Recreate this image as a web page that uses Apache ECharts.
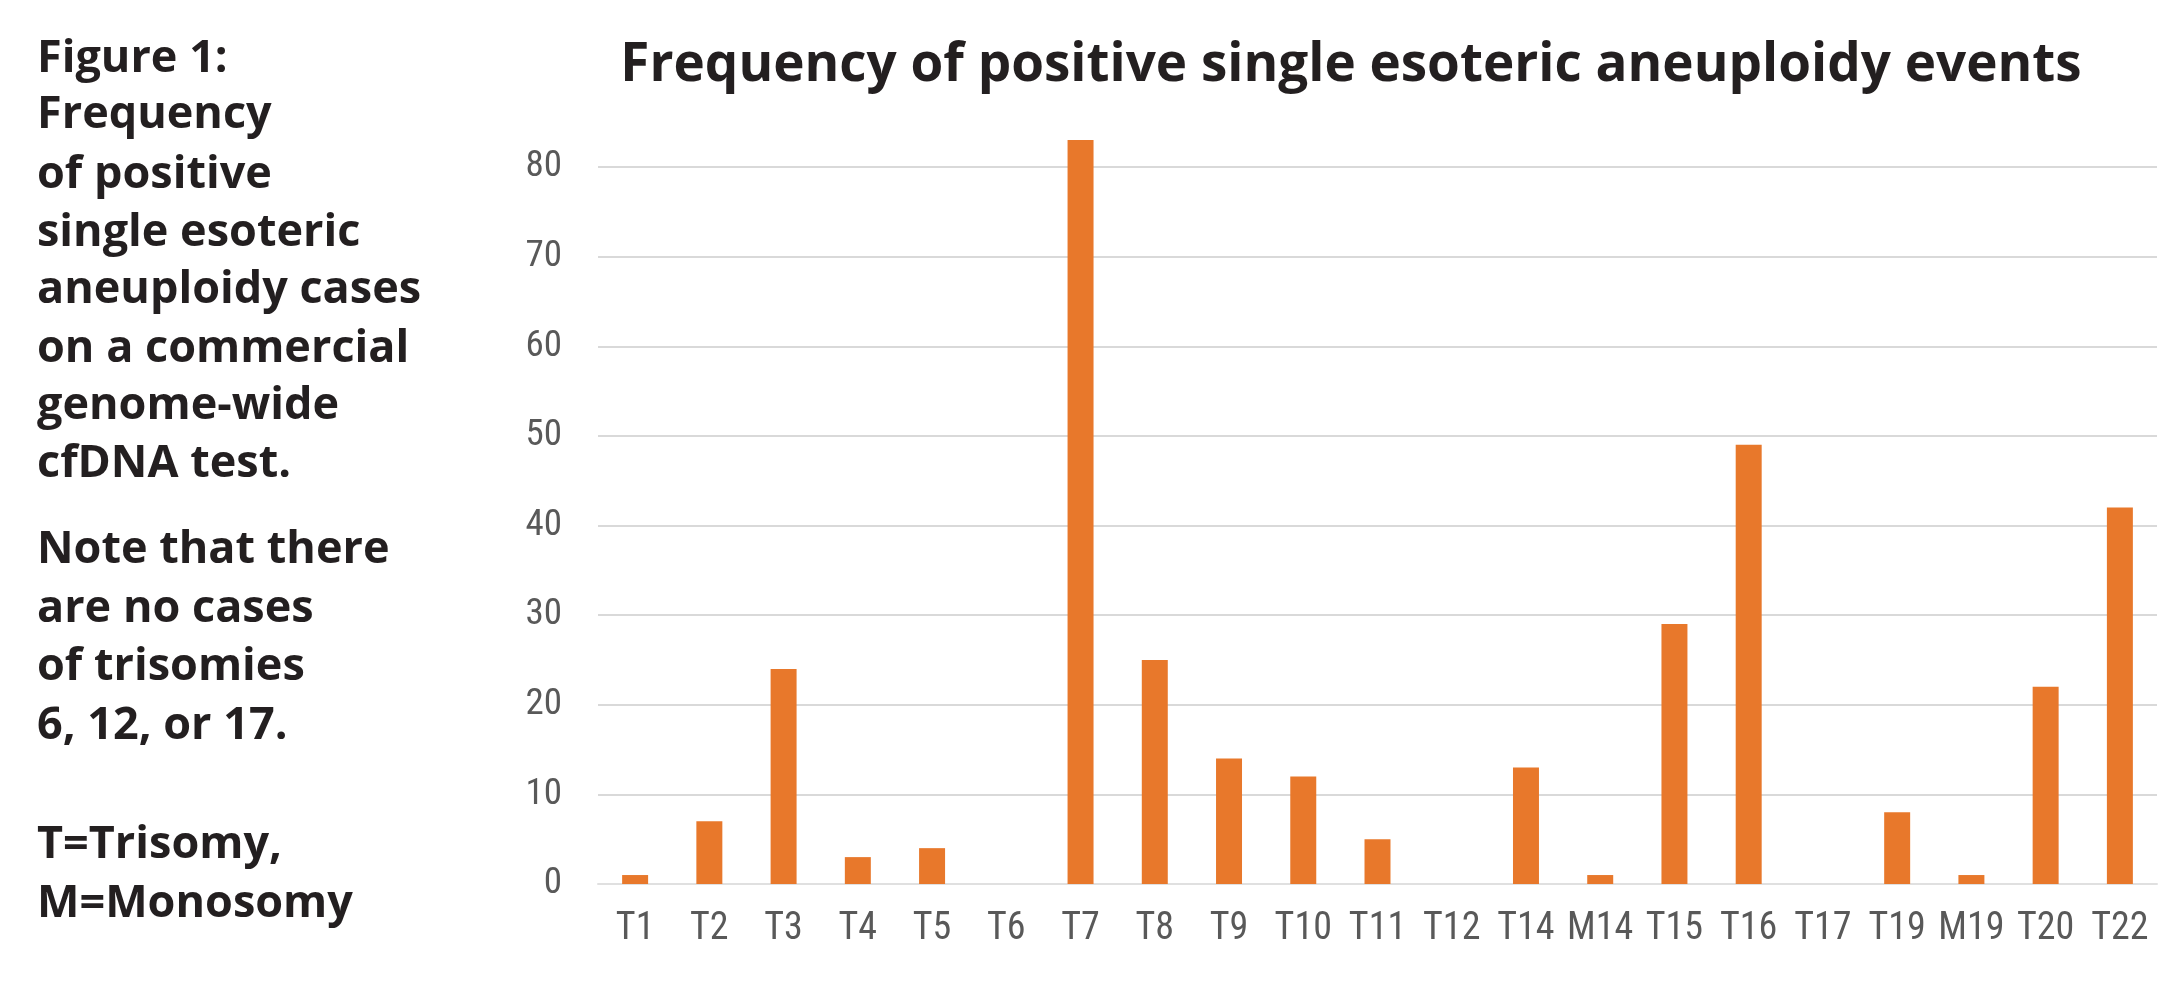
<!DOCTYPE html>
<html>
<head>
<meta charset="utf-8">
<style>
html,body{margin:0;padding:0;background:#fff;}
#chart{width:2181px;height:984px;}
</style>
<script src="https://cdn.jsdelivr.net/npm/echarts@6/dist/echarts.min.js"></script>
</head>
<body>
<div id="chart"></div>
<script>
const categories = ['T1','T2','T3','T4','T5','T6','T7','T8','T9','T10','T11','T12','T14','M14','T15','T16','T17','T19','M19','T20','T22'];
const counts = [1,7,24,3,4,0,83,25,14,12,5,0,13,1,29,49,0,8,1,22,42];
const yTicks = [0,10,20,30,40,50,60,70,80];
const titleText = 'Frequency of positive single esoteric aneuploidy events';
const captionLines = [
  'Figure 1:','Frequency','of positive','single esoteric','aneuploidy cases',
  'on a commercial','genome-wide','cfDNA test.',
  'Note that there','are no cases','of trisomies','6, 12, or 17.',
  'T=Trisomy,','M=Monosomy'
];
const captionY = [59,115,175,233,290,349,406,464,550,609,667,726,845,904];

const labelFont = "'Liberation Sans Narrow', 'Roboto Condensed', 'DejaVu Sans Condensed', Roboto, sans-serif";

const chart = echarts.init(document.getElementById('chart'));
const graphics = captionLines.map((t,i)=>({
  type:'text', x:37, y:captionY[i],
  style:{text:t, fill:'#231f20', fontFamily:'Open Sans', fontWeight:'bold', fontSize:45, align:'left', verticalAlign:'middle'}
}));
chart.setOption({
  backgroundColor:'#ffffff',
  animation:false,
  title:{
    text:titleText, left:1346, top:34, textAlign:'center',
    textStyle:{fontFamily:'Open Sans', fontWeight:'bold', fontSize:53, color:'#231f20'}
  },
  graphic: graphics,
  grid:{left:598, right:24, top:167, bottom:100, containLabel:false},
  xAxis:{
    type:'category', data:categories,
    axisLine:{show:true, lineStyle:{color:'#e0e0e0', width:2}},
    axisTick:{show:false},
    axisLabel:{interval:0, color:'#595959', fontFamily:labelFont, fontSize:38, margin:26}
  },
  yAxis:{
    type:'value', min:yTicks[0], max:yTicks[yTicks.length-1], interval:10,
    axisLine:{show:false}, axisTick:{show:false},
    axisLabel:{color:'#595959', fontFamily:labelFont, fontSize:37, margin:36},
    splitLine:{lineStyle:{color:'#d9d9d9', width:2}}
  },
  series:[{
    type:'bar', data:counts, barWidth:'35%', clip:false,
    itemStyle:{color:'#e8782b'}
  }]
});
</script>
</body>
</html>
